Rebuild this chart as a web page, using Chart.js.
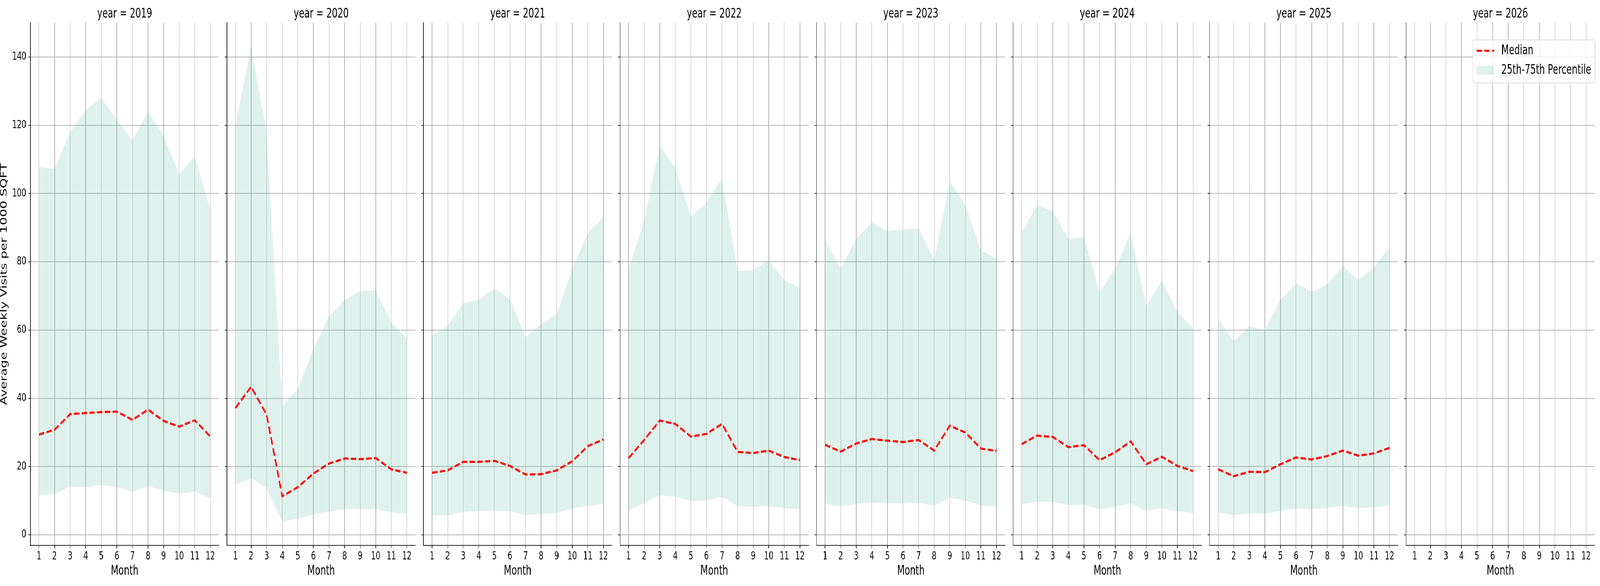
<!DOCTYPE html>
<html>
<head>
<meta charset="utf-8">
<title>Average Weekly Visits per 1000 SQFT by month and year</title>
<script src="https://cdn.jsdelivr.net/npm/chart.js@4.4.1/dist/chart.umd.min.js"></script>
<style>
  html, body { margin: 0; padding: 0; background: #fff; overflow: hidden; }
  #figure { position: relative; width: 6000px; height: 1500px; transform-origin: 0 0; }
  #figure canvas { position: absolute; top: 0; }
</style>
</head>
<body>
<div id="figure"></div>
<script>
const YEARS = [2019, 2020, 2021, 2022, 2023, 2024, 2025, 2026];
const MONTHS = [1, 2, 3, 4, 5, 6, 7, 8, 9, 10, 11, 12];
const Y_TICKS = [0, 20, 40, 60, 80, 100, 120, 140];

// one row per year, in YEARS order (2026 has no data yet)
const MEDIAN = [
  [29.4, 30.8, 35.4, 35.7, 36.0, 36.1, 33.7, 36.7, 33.4, 31.7, 33.6, 28.8],
  [37.2, 43.4, 35.2, 11.3, 14.0, 18.0, 20.9, 22.4, 22.2, 22.5, 19.2, 18.2],
  [18.2, 18.9, 21.4, 21.4, 21.7, 20.2, 17.7, 17.8, 18.9, 21.6, 26.0, 28.0],
  [22.5, 27.8, 33.5, 32.5, 28.8, 29.6, 32.5, 24.3, 24.0, 24.7, 22.8, 21.9],
  [26.4, 24.4, 26.8, 28.1, 27.6, 27.2, 27.8, 24.7, 32.0, 30.0, 25.3, 24.6],
  [26.6, 29.1, 28.7, 25.7, 26.3, 21.9, 24.2, 27.4, 20.7, 22.9, 20.2, 18.7],
  [19.2, 17.2, 18.5, 18.4, 20.7, 22.7, 22.1, 23.1, 24.7, 23.2, 23.9, 25.5],
  []
];

const P25 = [
  [11.6, 12.0, 14.1, 14.0, 14.5, 14.1, 12.6, 14.3, 13.0, 12.1, 12.7, 10.7],
  [14.7, 16.6, 13.7, 3.9, 4.7, 6.0, 6.8, 7.6, 7.5, 7.5, 6.6, 6.1],
  [5.8, 5.7, 6.7, 7.0, 7.1, 6.9, 5.8, 6.1, 6.5, 7.8, 8.5, 9.1],
  [7.1, 9.3, 11.6, 11.2, 9.9, 10.1, 11.1, 8.5, 8.2, 8.5, 7.9, 7.4],
  [9.1, 8.4, 9.1, 9.5, 9.3, 9.2, 9.4, 8.5, 10.9, 10.1, 8.7, 8.3],
  [9.0, 9.7, 9.7, 8.7, 8.9, 7.5, 8.3, 9.3, 7.0, 7.8, 6.9, 6.4],
  [6.5, 5.8, 6.3, 6.3, 7.0, 7.7, 7.5, 7.9, 8.5, 7.9, 8.1, 8.6],
  []
];

const P75 = [
  [107.7, 107.3, 118.0, 124.5, 128.0, 121.8, 115.6, 124.1, 116.9, 105.6, 111.0, 95.1],
  [120.0, 143.1, 117.6, 37.7, 42.9, 54.5, 64.1, 68.7, 71.5, 71.7, 62.2, 57.6],
  [58.4, 61.2, 67.9, 68.8, 72.2, 69.1, 57.9, 61.7, 64.6, 78.1, 88.4, 93.1],
  [77.9, 92.0, 114.0, 107.5, 93.1, 97.4, 104.4, 77.3, 77.6, 80.5, 74.6, 72.4],
  [86.4, 78.1, 86.8, 91.6, 89.0, 89.5, 89.8, 80.5, 103.5, 96.7, 83.4, 81.0],
  [88.6, 96.7, 94.8, 86.7, 87.3, 71.2, 77.9, 88.4, 67.1, 74.5, 65.3, 60.4],
  [63.5, 56.8, 61.1, 60.0, 69.0, 73.7, 71.2, 73.4, 78.8, 74.7, 78.3, 84.4],
  []
];

const FONT = "'DejaVu Sans', sans-serif";
const INK = '#262626';
const GRID = '#b5b5b5';
const BAND = 'rgba(95, 185, 160, 0.2)';
const RED = '#ff0000';

const FIG_W = 6000;
const AXIS_W = 114;     // room left of each plot for ticks / y label
const PANEL_W = 707;
const PANEL_STEP = 737;
const PAD_R = 20;
const CANVAS_H = 1500;
const BOTTOM_H = 104;

Chart.defaults.font.family = FONT;
Chart.defaults.color = '#000';

// shared axes, padded 5% like matplotlib autoscale
const allY = P25.flat().concat(P75.flat());
const yLo = Math.min(...allY);
const yHi = Math.max(...allY);
const Y_MIN = yLo - 0.05 * (yHi - yLo);
const Y_MAX = yHi + 0.05 * (yHi - yLo);
const xSpan = MONTHS[MONTHS.length - 1] - MONTHS[0];
const X_MIN = MONTHS[0] - 0.05 * xSpan;
const X_MAX = MONTHS[MONTHS.length - 1] + 0.05 * xSpan;

const toPoints = row => row.map((v, i) => ({ x: MONTHS[i], y: v }));

// boxed legend in the upper right corner of the plot area
const cornerLegend = {
  id: 'cornerLegend',
  afterDraw(chart, args, opts) {
    if (!opts.show) return;
    const { ctx, chartArea } = chart;
    const items = chart.data.datasets.filter(d => d.label);
    const pad = 14, handle = 66, gap = 27, rowH = 50;

    ctx.save();
    ctx.font = `33px ${FONT}`;
    const textW = Math.max(...items.map(d => ctx.measureText(d.label).width));
    const w = pad + handle + gap + textW + pad;
    const h = 110;
    const left = chartArea.right + 1 - w;
    const top = chartArea.top + 44;

    ctx.beginPath();
    ctx.roundRect(left, top, w, h, 7);
    ctx.fillStyle = 'rgba(255,255,255,0.8)';
    ctx.fill();
    ctx.strokeStyle = '#d9d9d9';
    ctx.lineWidth = 2;
    ctx.stroke();

    items.forEach((d, i) => {
      const cy = top + 28 + i * rowH;
      const hx = left + pad;
      if (d.fill) {
        ctx.fillStyle = d.backgroundColor;
        ctx.fillRect(hx, cy - 11.5, handle, 23);
      } else {
        ctx.strokeStyle = d.borderColor;
        ctx.lineWidth = d.borderWidth;
        ctx.setLineDash(d.borderDash || []);
        ctx.beginPath();
        ctx.moveTo(hx, cy);
        ctx.lineTo(hx + handle, cy);
        ctx.stroke();
        ctx.setLineDash([]);
      }
      ctx.fillStyle = '#000';
      ctx.textBaseline = 'middle';
      ctx.textAlign = 'left';
      ctx.fillText(d.label, hx + handle + gap, cy);
    });
    ctx.restore();
  }
};

const figure = document.getElementById('figure');

// the window may be narrower than the figure: fit the width, keep the height
const fitX = Math.min(1, window.innerWidth / FIG_W);
figure.style.transform = `scaleX(${fitX})`;

YEARS.forEach((year, i) => {
  const canvas = document.createElement('canvas');
  canvas.width = AXIS_W + PANEL_W + PAD_R;
  canvas.height = CANVAS_H;
  canvas.style.left = (PANEL_STEP * i) + 'px';
  figure.appendChild(canvas);

  const first = i === 0;
  const last = i === YEARS.length - 1;

  new Chart(canvas, {
    type: 'line',
    data: {
      datasets: [
        {
          label: 'Median',
          data: toPoints(MEDIAN[i]),
          borderColor: RED,
          borderWidth: 5.5,
          borderDash: [20, 9],
          pointRadius: 0,
          fill: false
        },
        {
          label: '',
          data: toPoints(P25[i]),
          borderColor: 'rgba(0,0,0,0)',
          borderWidth: 0,
          pointRadius: 0,
          fill: false
        },
        {
          label: '25th-75th Percentile',
          data: toPoints(P75[i]),
          borderColor: 'rgba(0,0,0,0)',
          borderWidth: 0,
          backgroundColor: BAND,
          pointRadius: 0,
          fill: '-1'
        }
      ]
    },
    options: {
      responsive: false,
      devicePixelRatio: 1,
      animation: false,
      layout: { padding: { right: PAD_R, top: 0, bottom: 0, left: 0 } },
      plugins: {
        legend: { display: false },
        tooltip: { enabled: false },
        title: {
          display: true,
          text: `year = ${year}`,
          color: '#000',
          fullSize: false,
          font: { size: 33, weight: 'normal', lineHeight: 1.2 },
          padding: { top: 17, bottom: 1.4 }
        },
        cornerLegend: { show: last }
      },
      scales: {
        x: {
          type: 'linear',
          min: X_MIN,
          max: X_MAX,
          afterBuildTicks: s => { s.ticks = MONTHS.map(v => ({ value: v })); },
          afterFit: s => { s.height = BOTTOM_H; },
          ticks: { color: '#000', font: { size: 27.5 }, padding: 5, maxRotation: 0, autoSkip: false },
          grid: { color: GRID, lineWidth: 2, tickColor: INK, tickLength: 7.5, tickWidth: 2 },
          border: { display: true, color: INK, width: 2 },
          title: {
            display: true,
            text: 'Month',
            color: '#000',
            font: { size: 33, lineHeight: 1.2 },
            padding: { top: 0, bottom: 18 }
          }
        },
        y: {
          type: 'linear',
          min: Y_MIN,
          max: Y_MAX,
          afterBuildTicks: s => { s.ticks = Y_TICKS.map(v => ({ value: v })); },
          afterFit: s => { s.width = AXIS_W; },
          ticks: { display: first, color: '#000', font: { size: 27.5 }, padding: 8 },
          grid: { color: GRID, lineWidth: 2, tickColor: INK, tickLength: 7.5, tickWidth: 2 },
          border: { display: true, color: INK, width: 2 },
          title: {
            display: first,
            text: 'Average Weekly Visits per 1000 SQFT',
            color: '#000',
            font: { size: 33, lineHeight: 1 },
            padding: { top: 0, bottom: 0 }
          }
        }
      }
    },
    plugins: [cornerLegend]
  });
});
</script>
</body>
</html>
